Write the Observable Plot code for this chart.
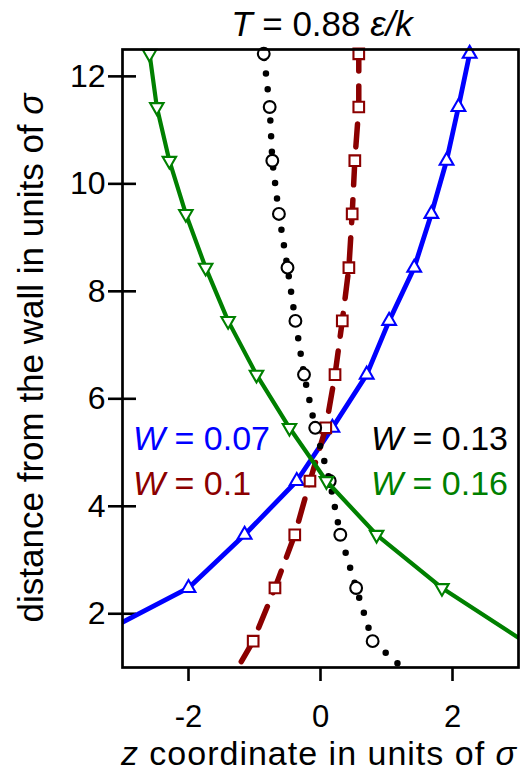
<!DOCTYPE html>
<html><head><meta charset="utf-8">
<script src="https://cdn.jsdelivr.net/npm/d3@7"></script>
<script src="https://cdn.jsdelivr.net/npm/@observablehq/plot@0.6"></script>
<style>
html,body{margin:0;padding:0;background:#fff;}
#chart svg{display:block;}
</style></head><body><div id="chart"></div>
<script>
// ---- data ----
const depth = [0.5, 1.49, 2.48, 3.47, 4.47, 5.46, 6.45, 7.45, 8.44, 9.44, 10.43, 11.43, 12.42];
const zW007 = [null, -3.55, -2.00, -1.15, -0.36, 0.18, 0.70, 1.04, 1.42, 1.68, 1.91, 2.09, 2.26];
const zW010 = [-1.49, -1.02, -0.69, -0.39, -0.16, 0.08, 0.22, 0.33, 0.43, 0.48, 0.52, 0.58, 0.58];
const zW013 = [1.70, 0.79, 0.54, 0.30, 0.14, -0.08, -0.25, -0.38, -0.50, -0.63, -0.73, -0.77, -0.86];
const zW016 = [null, 3.08, 1.84, 0.85, 0.09, -0.47, -0.97, -1.40, -1.74, -2.04, -2.29, -2.48, -2.59];
const seriesNames = ["0.07", "0.1", "0.13", "0.16"];
const xTicks = [-2, 0, 2];
const yTicks = [2, 4, 6, 8, 10, 12];
const xDomain = [-3, 3];
const yDomain = [1, 12.5];

// ---- styles ----
const triangleDown = {
  draw(context, size) {
    const y = Math.sqrt(size / (3 * Math.sqrt(3)));
    context.moveTo(0, 2 * y);
    context.lineTo(Math.sqrt(3) * y, -y);
    context.lineTo(-Math.sqrt(3) * y, -y);
    context.closePath();
  }
};
const styles = {
  "0.07": {color: "#0000ff", symbol: "triangle", r: 5.1, line: {strokeWidth: 4.8}},
  "0.1":  {color: "#8b0000", symbol: "square", r: 6.0, line: {strokeWidth: 5.5, strokeDasharray: "23 15", strokeLinecap: "round"}},
  "0.13": {color: "#000000", symbol: "circle", r: 5.9, line: {strokeWidth: 6.5, strokeDasharray: "0 15.7", strokeLinecap: "round"}},
  "0.16": {color: "#008000", symbol: triangleDown, r: 5.0, line: {strokeWidth: 4.2}}
};
const zBySeries = {"0.07": zW007, "0.1": zW010, "0.13": zW013, "0.16": zW016};

const rows = seriesNames.flatMap(w => depth.map((d, i) => ({w, depth: d, z: zBySeries[w][i]})));
const inside = d => d.z != null && d.z >= xDomain[0] && d.z <= xDomain[1] && d.depth >= yDomain[0] && d.depth <= yDomain[1];

const marks = [];
for (const w of seriesNames) {
  const s = styles[w];
  const data = rows.filter(d => d.w === w);
  marks.push(Plot.line(data, {x: "z", y: "depth", stroke: s.color, ...s.line, clip: true}));
  marks.push(Plot.dot(data, {x: "z", y: "depth", symbol: s.symbol, r: s.r, stroke: s.color, fill: "white", strokeWidth: 2.1, filter: inside}));
}

const font = "'Liberation Sans', Arial, Helvetica, sans-serif";
const plot = Plot.plot({
  width: 522,
  height: 772,
  marginLeft: 122,
  marginRight: 4,
  marginTop: 49,
  marginBottom: 105,
  style: {fontFamily: font, background: "white", color: "black"},
  x: {domain: xDomain},
  y: {domain: yDomain},
  marks: [
    Plot.axisX({ticks: xTicks, tickSize: 14, tickPadding: 23, fontSize: 31, strokeWidth: 2.6, label: null,
      tickFormat: d => (d < 0 ? "-" + Math.abs(d) : String(d))}),
    Plot.axisY({ticks: yTicks, tickSize: 28, dx: 14, tickPadding: 3, fontSize: 32, strokeWidth: 2.6, label: null}),
    ...marks,
    Plot.frame({stroke: "black", strokeWidth: 2.7})
  ]
});
document.getElementById("chart").appendChild(plot);

// ---- title, axis labels and legend as real text with italic parts ----
const svg = d3.select(plot);
const [x0, x1] = plot.scale("x").range;
const [yb, yt] = plot.scale("y").range;
function rich(g, parts) {
  for (const [txt, it] of parts) g.append("tspan").attr("font-style", it ? "italic" : "normal").text(txt);
}
const T = svg.append("text").attr("x", (x0 + x1) / 2 + 2).attr("y", yt - 13).attr("text-anchor", "middle")
  .attr("font-size", 35).attr("font-family", font).attr("fill", "black");
rich(T, [["T", true], [" = 0.88 ", false], ["ε/k", true]]);

const XL = svg.append("text").attr("x", (x0 + x1) / 2 - 1).attr("y", yb + 97.5).attr("text-anchor", "middle")
  .attr("font-size", 34).attr("letter-spacing", 1.0).attr("font-family", font).attr("fill", "black");
rich(XL, [["z", true], [" coordinate in units of ", false], ["σ", true]]);

const YL = svg.append("text").attr("transform", `translate(${x0 - 79},${(yb + yt) / 2}) rotate(-90)`)
  .attr("text-anchor", "middle").attr("font-size", 35).attr("font-family", font).attr("fill", "black");
rich(YL, [["distance from the wall in units of ", false], ["σ", true]]);

const legendPos = {
  "0.07": {x: x0 + 11, y: 450, anchor: "start"},
  "0.1":  {x: x0 + 11, y: 495, anchor: "start"},
  "0.13": {x: x1 - 10, y: 450, anchor: "end"},
  "0.16": {x: x1 - 10, y: 495, anchor: "end"}
};
for (const w of seriesNames) {
  const p = legendPos[w];
  const t = svg.append("text").attr("x", p.x).attr("y", p.y).attr("text-anchor", p.anchor)
    .attr("font-size", 34).attr("font-family", font).attr("fill", styles[w].color);
  rich(t, [["W", true], [" = " + w, false]]);
}
</script>
</body></html>
